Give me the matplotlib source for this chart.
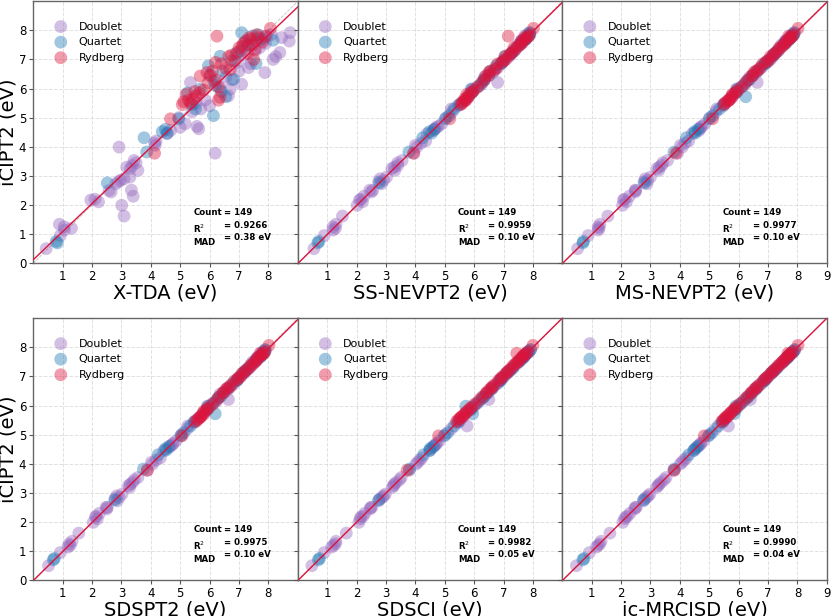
import numpy as np
import matplotlib
matplotlib.use('Agg')
import matplotlib.pyplot as plt

methods = ['X-TDA', 'SS-NEVPT2', 'MS-NEVPT2', 'SDSPT2', 'SDSCI', 'ic-MRCISD']
r2_txt = ['0.9266', '0.9959', '0.9977', '0.9975', '0.9982', '0.9990']
mad_txt = ['0.38', '0.10', '0.10', '0.10', '0.05', '0.04']
count = 149

# iCIPT2 reference values (y axis), per state type
d_ref = [0.50, 0.95, 1.34, 1.14, 1.20, 1.62, 2.17, 2.11, 1.99, 2.30, 2.50, 2.51, 2.73, 2.85, 2.90,
         2.96, 3.30, 3.36, 3.53, 3.19, 3.99, 4.13, 4.20, 4.56, 4.67, 4.79, 4.70, 4.62, 6.21, 3.78,
         5.41, 5.75, 5.98, 6.15, 6.72, 6.55, 7.00, 7.24, 7.10, 7.92, 7.63, 7.75, 5.20, 5.30, 6.40,
         6.85, 7.40, 7.55, 7.80, 5.60, 6.60, 7.30, 7.70, 4.45, 5.00, 6.90, 7.15, 7.50, 1.25, 2.20,
         3.25, 3.45, 4.05, 6.30, 7.85, 7.65, 6.05, 5.50, 2.45, 2.80]
q_ref = [0.70, 0.75, 2.76, 4.31, 3.82, 4.52, 4.47, 4.96, 5.30, 5.98, 5.07, 6.78, 7.11, 6.32, 7.92,
         6.86, 7.66, 5.90, 6.10, 6.60, 7.30, 7.50, 7.80, 7.70, 5.72, 6.25, 6.95, 5.45, 4.60, 7.20,
         7.60, 5.85, 6.45, 7.85]
r_ref = [3.78, 4.96, 5.45, 5.55, 5.60, 5.65, 5.75, 5.50, 5.85, 6.43, 6.55, 7.80, 6.20, 6.60, 6.85,
         6.70, 7.10, 6.95, 7.25, 7.40, 7.55, 7.65, 7.70, 7.50, 7.35, 7.75, 7.60, 7.80, 8.07, 5.95,
         6.05, 6.30, 5.70, 6.90, 7.20, 7.45, 7.00, 5.80, 5.90, 6.45, 7.15, 7.75, 6.65, 7.85, 5.60]

# X-TDA
d_xtda = [0.44, 0.92, 0.89, 1.06, 1.30, 3.09, 1.96, 2.22, 3.01, 3.40, 2.58, 3.34, 2.81, 2.97, 3.09,
          3.29, 3.18, 3.37, 3.43, 3.56, 2.92, 4.13, 4.18, 4.67, 5.00, 5.17, 5.57, 5.63, 5.35, 6.19,
          6.00, 6.64, 6.70, 7.09, 7.32, 7.88, 8.16, 8.39, 8.25, 8.74, 8.71, 8.45, 5.40, 5.70, 6.55,
          7.40, 7.70, 7.90, 7.95, 5.85, 7.00, 7.55, 7.85, 4.55, 4.95, 6.95, 7.20, 7.35, 1.05, 2.10,
          3.30, 3.50, 4.15, 6.75, 8.10, 7.60, 6.35, 5.55, 2.65, 2.90]
q_xtda = [0.82, 0.78, 2.52, 3.77, 3.86, 4.39, 4.56, 4.95, 5.52, 5.68, 6.13, 5.96, 6.36, 6.81, 7.09,
          7.58, 8.16, 6.40, 6.20, 6.45, 7.05, 7.30, 7.45, 7.75, 6.55, 6.15, 6.75, 5.40, 4.50, 6.90,
          7.20, 5.25, 6.05, 7.65]
r_xtda = [4.13, 4.67, 5.07, 5.12, 5.28, 5.45, 5.55, 5.35, 5.65, 5.68, 5.91, 6.25, 5.95, 6.10, 6.40,
          6.55, 6.65, 6.85, 6.95, 7.00, 7.15, 7.25, 7.40, 7.45, 7.55, 7.65, 7.80, 7.90, 8.07, 5.80,
          6.30, 6.20, 6.35, 6.20, 7.30, 7.10, 7.50, 5.20, 5.50, 6.00, 6.75, 7.35, 6.70, 7.60, 6.30]

# SS-NEVPT2
d_ss = [0.55, 0.90, 1.30, 1.20, 1.28, 1.52, 2.10, 2.20, 2.02, 2.25, 2.55, 2.45, 2.85, 2.92, 2.80,
        3.02, 3.28, 3.40, 3.55, 3.30, 4.05, 4.20, 4.35, 4.62, 4.72, 4.90, 4.78, 4.66, 6.80, 3.95,
        5.45, 5.80, 5.90, 6.25, 6.80, 6.62, 7.05, 7.30, 7.18, 7.90, 7.60, 7.78, 5.25, 5.22, 6.35,
        6.92, 7.45, 7.62, 7.72, 5.70, 6.68, 7.38, 7.75, 4.40, 5.05, 6.95, 7.22, 7.48, 1.20, 2.15,
        3.20, 3.40, 4.00, 6.35, 7.80, 7.62, 6.10, 5.55, 2.50, 2.75]
q_ss = [0.68, 0.72, 2.78, 4.25, 3.78, 4.48, 4.55, 5.02, 5.32, 5.92, 5.15, 6.75, 7.05, 6.35, 7.88,
        6.92, 7.72, 5.95, 6.18, 6.55, 7.35, 7.55, 7.85, 7.75, 5.80, 6.30, 7.00, 5.50, 4.65, 7.25,
        7.62, 5.92, 6.50, 7.90]
r_ss = [3.94, 5.17, 5.55, 5.62, 5.70, 5.68, 5.82, 5.60, 5.90, 6.40, 6.50, 7.16, 6.25, 6.55, 6.80,
        6.75, 7.05, 7.00, 7.30, 7.35, 7.60, 7.62, 7.75, 7.55, 7.40, 7.72, 7.65, 7.85, 8.02, 6.00,
        6.12, 6.35, 5.80, 6.95, 7.25, 7.50, 7.08, 5.75, 5.95, 6.50, 7.20, 7.80, 6.70, 7.88, 5.72]

# MS-NEVPT2
d_ms = [0.52, 0.88, 1.28, 1.22, 1.25, 1.55, 2.08, 2.18, 2.05, 2.28, 2.50, 2.48, 2.88, 2.90, 2.82,
        3.00, 3.30, 3.38, 3.58, 3.28, 4.08, 4.18, 4.30, 4.65, 4.70, 4.85, 4.75, 4.68, 6.63, 3.92,
        5.48, 5.78, 5.92, 6.22, 6.78, 6.60, 7.08, 7.28, 7.15, 7.88, 7.58, 7.76, 5.22, 5.25, 6.38,
        6.90, 7.42, 7.60, 7.75, 5.68, 6.65, 7.35, 7.72, 4.42, 5.02, 6.98, 7.20, 7.45, 1.22, 2.12,
        3.22, 3.42, 4.02, 6.32, 7.82, 7.60, 6.08, 5.52, 2.48, 2.78]
q_ms = [0.70, 0.72, 2.80, 4.22, 3.80, 4.50, 4.52, 5.00, 5.35, 5.95, 5.12, 6.80, 7.15, 6.38, 7.90,
        6.90, 7.70, 5.95, 6.15, 6.62, 7.32, 7.52, 7.82, 7.72, 6.24, 6.28, 6.98, 5.48, 4.62, 7.22,
        7.60, 5.90, 6.48, 7.88]
r_ms = [3.87, 5.11, 5.50, 5.60, 5.65, 5.70, 5.78, 5.55, 5.88, 6.45, 6.52, 7.70, 6.22, 6.58, 6.82,
        6.72, 7.08, 6.98, 7.28, 7.38, 7.58, 7.64, 7.72, 7.52, 7.38, 7.76, 7.62, 7.82, 8.02, 5.98,
        6.10, 6.32, 5.78, 6.92, 7.22, 7.48, 7.05, 5.78, 5.92, 6.48, 7.18, 7.78, 6.68, 7.86, 5.68]

# SDSPT2
d_sdspt2 = [0.52, 0.92, 1.32, 1.18, 1.26, 1.55, 2.12, 2.18, 2.04, 2.25, 2.52, 2.48, 2.86, 2.92, 2.84,
            3.02, 3.30, 3.38, 3.56, 3.28, 4.06, 4.18, 4.32, 4.62, 4.74, 4.86, 4.76, 4.68, 6.64, 3.88,
            5.46, 5.78, 5.92, 6.22, 6.80, 6.62, 7.06, 7.28, 7.16, 7.88, 7.60, 7.76, 5.24, 5.26, 6.36,
            6.92, 7.44, 7.60, 7.76, 5.66, 6.66, 7.36, 7.72, 4.44, 5.04, 6.96, 7.20, 7.46, 1.22, 2.14,
            3.24, 3.44, 4.02, 6.34, 7.82, 7.62, 6.08, 5.54, 2.50, 2.78]
q_sdspt2 = [0.68, 0.72, 2.78, 4.25, 3.75, 4.50, 4.52, 5.02, 5.35, 5.95, 5.12, 6.80, 7.12, 6.38, 7.90,
            6.92, 7.72, 5.95, 6.15, 6.62, 7.32, 7.52, 7.82, 7.74, 6.19, 6.28, 6.98, 5.48, 4.62, 7.22,
            7.62, 5.90, 6.48, 7.88]
r_sdspt2 = [3.88, 5.06, 5.52, 5.62, 5.68, 5.72, 5.80, 5.58, 5.90, 6.45, 6.55, 7.72, 6.25, 6.60, 6.85,
            6.72, 7.10, 6.98, 7.30, 7.40, 7.58, 7.65, 7.72, 7.55, 7.40, 7.78, 7.62, 7.85, 8.02, 6.00,
            6.10, 6.32, 5.80, 6.95, 7.22, 7.50, 7.05, 5.80, 5.92, 6.48, 7.18, 7.80, 6.70, 7.88, 5.68]

# SDSCI
d_sdsci = [0.48, 0.90, 1.30, 1.15, 1.22, 1.65, 2.15, 2.12, 2.08, 2.28, 2.48, 2.52, 2.75, 2.88, 2.92,
           2.98, 3.28, 3.35, 3.52, 3.22, 4.02, 4.15, 4.22, 4.58, 4.70, 4.82, 4.72, 4.65, 6.50, 3.80,
           5.45, 5.72, 6.00, 6.18, 6.74, 6.58, 7.02, 7.26, 7.12, 7.92, 7.64, 7.74, 5.22, 5.76, 6.42,
           6.88, 7.42, 7.56, 7.80, 5.62, 6.62, 7.32, 7.70, 4.48, 5.02, 6.92, 7.16, 7.52, 1.28, 2.22,
           3.26, 3.46, 4.08, 6.32, 7.86, 7.66, 6.06, 5.52, 2.46, 2.80]
q_sdsci = [0.70, 0.74, 2.76, 4.28, 3.80, 4.50, 4.50, 4.98, 5.32, 5.72, 5.10, 6.82, 7.10, 6.35, 7.92,
           6.90, 7.68, 5.92, 6.12, 6.62, 7.32, 7.52, 7.80, 7.72, 5.95, 6.28, 6.96, 5.48, 4.62, 7.22,
           7.62, 5.88, 6.48, 7.86]
r_sdsci = [3.72, 4.79, 5.40, 5.50, 5.55, 5.62, 5.70, 5.45, 5.82, 6.42, 6.52, 7.45, 6.18, 6.58, 6.82,
           6.68, 7.08, 6.92, 7.22, 7.36, 7.52, 7.62, 7.66, 7.48, 7.32, 7.72, 7.58, 7.78, 8.00, 5.92,
           6.02, 6.28, 5.68, 6.88, 7.18, 7.42, 6.98, 5.76, 5.86, 6.42, 7.12, 7.72, 6.62, 7.82, 5.56]

# ic-MRCISD
d_mrci = [0.48, 0.92, 1.32, 1.16, 1.22, 1.62, 2.16, 2.12, 2.06, 2.30, 2.48, 2.52, 2.76, 2.87, 2.92,
          2.98, 3.29, 3.36, 3.53, 3.21, 4.01, 4.14, 4.22, 4.57, 4.69, 4.81, 4.71, 4.64, 6.40, 3.79,
          5.43, 5.74, 5.99, 6.17, 6.73, 6.57, 7.01, 7.25, 7.11, 7.91, 7.64, 7.75, 5.21, 5.65, 6.41,
          6.87, 7.41, 7.56, 7.80, 5.61, 6.61, 7.31, 7.70, 4.47, 5.01, 6.91, 7.16, 7.51, 1.27, 2.21,
          3.26, 3.46, 4.07, 6.31, 7.86, 7.66, 6.06, 5.51, 2.46, 2.81]
q_mrci = [0.70, 0.74, 2.77, 4.30, 3.81, 4.52, 4.48, 4.97, 5.31, 5.90, 5.09, 6.80, 7.10, 6.34, 7.91,
          6.88, 7.67, 5.91, 6.11, 6.61, 7.31, 7.51, 7.79, 7.71, 5.85, 6.27, 6.96, 5.47, 4.61, 7.21,
          7.61, 5.87, 6.47, 7.86]
r_mrci = [3.81, 4.83, 5.42, 5.52, 5.57, 5.63, 5.72, 5.47, 5.83, 6.42, 6.53, 7.68, 6.19, 6.58, 6.83,
          6.69, 7.09, 6.93, 7.23, 7.38, 7.53, 7.63, 7.68, 7.49, 7.33, 7.73, 7.59, 7.79, 8.02, 5.93,
          6.03, 6.29, 5.69, 6.89, 7.19, 7.44, 6.99, 5.78, 5.88, 6.44, 7.14, 7.74, 6.64, 7.84, 5.58]

xdata = {
    'X-TDA': (d_xtda, q_xtda, r_xtda),
    'SS-NEVPT2': (d_ss, q_ss, r_ss),
    'MS-NEVPT2': (d_ms, q_ms, r_ms),
    'SDSPT2': (d_sdspt2, q_sdspt2, r_sdspt2),
    'SDSCI': (d_sdsci, q_sdsci, r_sdsci),
    'ic-MRCISD': (d_mrci, q_mrci, r_mrci),
}
labels = ['Doublet', 'Quartet', 'Rydberg']
colors = ['#9467bd', '#1f77b4', '#dc143c']
yref = (d_ref, q_ref, r_ref)

fig, axes = plt.subplots(2, 3, figsize=(8.31, 6.16), dpi=100, sharey=True)
fig.subplots_adjust(left=0.040, right=0.995, bottom=0.058, top=0.998, wspace=0, hspace=0.21)

for i, (ax, m) in enumerate(zip(axes.flat, methods)):
    xs = xdata[m]
    for x, y, lab, c in zip(xs, yref, labels, colors):
        ax.scatter(x, y, s=85, color=c, alpha=0.42, edgecolors='none', label=lab, zorder=3)

    # linear fit + y=x guide
    xall = np.concatenate([np.array(v) for v in xs])
    yall = np.concatenate([np.array(v) for v in yref])
    k, b = np.polyfit(xall, yall, 1)
    line = np.array([0, 9])
    ax.plot(line, line, ls='--', color='gray', lw=0.6, alpha=0.5, zorder=2)
    ax.plot(line, k * line + b, color='crimson', lw=1.0, zorder=4)

    ax.set_xlim(0, 9)
    ax.set_ylim(0, 9)
    if i % 3 == 2:
        ax.set_xticks(range(1, 10))
    else:
        ax.set_xticks(range(1, 9))
    ax.set_yticks(range(0, 9))
    ax.tick_params(labelsize=8.5, length=3, pad=2, color='#555555')
    ax.grid(True, ls='--', lw=0.7, color='#cccccc', alpha=0.6, zorder=0)
    for sp in ax.spines.values():
        sp.set_color('#666666')
        sp.set_linewidth(1.0)
    ax.set_xlabel(m + ' (eV)', fontsize=14, labelpad=0)
    if i % 3 == 0:
        ax.set_ylabel('iCIPT2 (eV)', fontsize=14, labelpad=1)

    ax.legend(loc='upper left', frameon=False, fontsize=8, handletextpad=0.6,
              labelspacing=0.5, borderaxespad=0.6, bbox_to_anchor=(0.02, 0.965))

    ax.text(0.605, 0.21, 'Count\nR$^2$\nMAD', transform=ax.transAxes, fontsize=6.2,
            fontweight='bold', va='top', ha='left', linespacing=1.5)
    ax.text(0.72, 0.21, '= %d\n= %s\n= %s eV' % (count, r2_txt[i], mad_txt[i]),
            transform=ax.transAxes, fontsize=6.2, fontweight='bold', va='top', ha='left',
            linespacing=1.5)

fig.savefig('out.png', dpi=100)
